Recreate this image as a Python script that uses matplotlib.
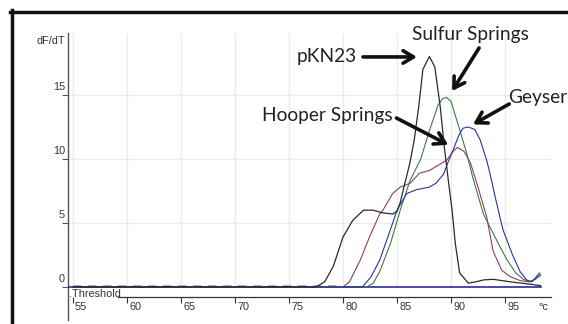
import matplotlib
matplotlib.use("Agg")
import matplotlib.pyplot as plt
from matplotlib.lines import Line2D

# ---------------- data ----------------
pkn23_T = [55, 77.5, 78.3, 79.1, 80.0, 80.9, 81.9, 82.8, 83.6, 84.6, 85.0, 85.3, 85.7, 86.2,
           86.6, 87.0, 87.4, 88.0, 88.5, 89.0, 89.4, 89.8, 90.1, 90.4, 90.8, 91.6, 92.3, 93.0,
           93.9, 95.5, 96.5, 97.5, 98.3]
pkn23_v = [0, 0, 0.4, 1.6, 3.9, 5.2, 6.0, 6.0, 5.8, 5.7, 5.9, 6.6, 8.0, 9.7,
           11.5, 14.0, 17.0, 18.0, 17.2, 14.1, 10.8, 8.0, 6.0, 3.4, 1.1, 0.3, 0.4, 0.55,
           0.6, 0.4, 0.3, 0.2, 0.1]

sulfur_T = [55, 82.2, 82.8, 83.4, 84.4, 85.3, 86.2, 87.2, 88.0, 88.8, 89.2, 89.6, 90.0, 90.8,
            91.5, 92.0, 93.0, 93.6, 94.5, 95.2, 96.0, 96.7, 97.3, 97.8, 98.3]
sulfur_v = [0, 0, 0.3, 1.2, 3.4, 6.0, 8.3, 10.0, 12.2, 14.2, 14.7, 14.8, 14.5, 12.3,
            10.3, 8.6, 5.7, 4.7, 3.2, 2.1, 1.1, 0.6, 0.4, 0.6, 1.0]

hooper_T = [55, 80.0, 80.6, 81.6, 82.5, 83.4, 83.7, 84.6, 85.3, 86.2, 87.1, 88.0, 89.0, 89.6,
            90.2, 90.6, 91.2, 91.8, 92.5, 93.3, 93.9, 94.7, 95.5, 96.4, 97.2, 97.8, 98.3]
hooper_v = [0, 0, 0.4, 2.1, 4.0, 5.7, 6.0, 7.3, 7.8, 8.1, 8.9, 9.1, 9.6, 9.9,
            10.6, 10.9, 10.6, 9.7, 7.8, 5.5, 2.8, 1.3, 0.8, 0.5, 0.4, 0.6, 0.9]

geyser_T = [55, 81.8, 82.6, 83.4, 84.4, 85.0, 85.9, 86.8, 88.0, 88.6, 89.3, 89.8, 90.2, 90.7,
            91.1, 91.6, 92.2, 92.7, 93.3, 93.6, 94.1, 94.8, 95.7, 96.4, 97.0, 97.5, 98.2]
geyser_v = [0, 0, 0.8, 2.1, 4.5, 6.0, 7.3, 7.6, 7.8, 8.1, 8.8, 9.9, 10.7, 11.8,
            12.4, 12.5, 12.3, 11.5, 9.9, 8.9, 7.0, 4.5, 2.5, 1.2, 0.55, 0.4, 1.1]

baseline_T = [55, 80]
baseline_v = [0.08, 0.08]

threshold_T = [54.5, 98.3]
threshold_v = [0, 0]

x_ticks = [55, 60, 65, 70, 75, 80, 85, 90, 95]
x_tick_labels = ["55", "60", "65", "70", "75", "80", "85", "90", "95"]
y_ticks = [0, 5, 10, 15]
y_tick_labels = ["0", "5", "10", "15"]

labels = ["pKN23", "Sulfur Springs", "Geyser", "Hooper Springs"]
label_text_pos = [(81.3, 17.97), (91.76, 19.69), (95.28, 14.77), (84.63, 13.36)]
label_ha = ["right", "center", "left", "right"]
arrow_tail = [(81.85, 17.97), (92.6, 18.67), (95.4, 14.3), (84.95, 13.2)]
arrow_head = [(86.85, 17.97), (90.1, 15.3), (92.04, 12.7), (89.75, 11.1)]

# ---------------- figure ----------------
W, H = 568, 324
fig = plt.figure(figsize=(W / 100, H / 100), dpi=100)
fig.patch.set_facecolor("white")

left_px, right_px, top_px, bot_px = 68, 551, 33, 320
ax = fig.add_axes([left_px / W, 1 - bot_px / H, (right_px - left_px) / W, (bot_px - top_px) / H])
ax.set_xlim(54.54, 99.26)
ax.set_ylim(-2.58, 19.84)
ax.set_facecolor("white")

grid_c = "#ebebeb"
ax.vlines(x_ticks, 0, 19.84, color=grid_c, lw=1.0, zorder=0)
ax.hlines(y_ticks[1:], 54.54, 99.26, color=grid_c, lw=1.0, zorder=0)

# spines
for s in ["top", "right"]:
    ax.spines[s].set_visible(False)
ax.spines["left"].set_color("#555555")
ax.spines["left"].set_linewidth(1.0)
ax.spines["bottom"].set_position(("data", -0.78))
ax.spines["bottom"].set_bounds(59.2, 99.26)
ax.spines["bottom"].set_color("#333333")
ax.spines["bottom"].set_linewidth(0.9)

ax.set_xticks(x_ticks)
ax.set_xticklabels([])
ax.set_yticks(y_ticks)
ax.set_yticklabels([])
ax.tick_params(axis="x", direction="out", length=4, width=0.8, color="#333333")
ax.tick_params(axis="y", direction="out", length=4.5, width=0.8, color="#555555")

tick_font = dict(family="Liberation Sans", fontsize=7.8, color="#333333")
for t, lab in zip(x_ticks, x_tick_labels):
    ax.annotate(lab, xy=(t, -0.78), xycoords="data", xytext=(1.5, -7.0),
                textcoords="offset points", ha="left", va="center", **tick_font)
for v, lab in zip(y_ticks, y_tick_labels):
    ax.annotate(lab, xy=(0, v), xycoords=("axes fraction", "data"), xytext=(-2.2, 5.4),
                textcoords="offset points", ha="right", va="center", **tick_font)
ax.annotate("dF/dT", xy=(0, 19.2), xycoords=("axes fraction", "data"), xytext=(-2.2, 0),
            textcoords="offset points", ha="right", va="center", **tick_font)
ax.annotate("°c", xy=(98.05, -0.78), xycoords="data", xytext=(0, -7.0),
            textcoords="offset points", ha="left", va="center", **tick_font)
ax.text(54.65, -0.55, ".Threshold", ha="left", va="center", **tick_font)

# curves
ax.plot(baseline_T, baseline_v, color="#8fa88a", lw=1.2, dashes=(5, 4), zorder=2)
ax.plot(threshold_T, threshold_v, color="#2a2a9c", lw=1.2, zorder=3)
ax.plot(hooper_T, hooper_v, color="#8c3d62", lw=0.8, zorder=4)
ax.plot(sulfur_T, sulfur_v, color="#3f7a45", lw=0.8, zorder=4)
ax.plot(geyser_T, geyser_v, color="#3030a0", lw=0.8, zorder=4)
ax.plot(pkn23_T, pkn23_v, color="#2a2a2a", lw=0.9, zorder=5)

# annotations
ann_font = dict(family="Lato", fontsize=13.8, color="#222222")
for lab, pos, ha in zip(labels, label_text_pos, label_ha):
    ax.text(pos[0], pos[1], lab, ha=ha, va="center", zorder=6, **ann_font)
for tail, head in zip(arrow_tail, arrow_head):
    ax.annotate("", xy=head, xytext=tail, xycoords="data", textcoords="data",
                arrowprops=dict(arrowstyle="->,head_length=0.75,head_width=0.45",
                                lw=2.6, color="#111111", shrinkA=0, shrinkB=0,
                                mutation_scale=10), zorder=6)

# outer frame (left and top edges)
fig.add_artist(Line2D([11.5 / W, 11.5 / W], [0, 1 - 10 / H], color="#111111", lw=2.5,
                      transform=fig.transFigure, solid_capstyle="projecting"))
fig.add_artist(Line2D([10 / W, 1.0], [1 - 11.8 / H, 1 - 11.8 / H], color="#111111", lw=2.5,
                      transform=fig.transFigure, solid_capstyle="projecting"))

fig.savefig("out.png", dpi=100)
